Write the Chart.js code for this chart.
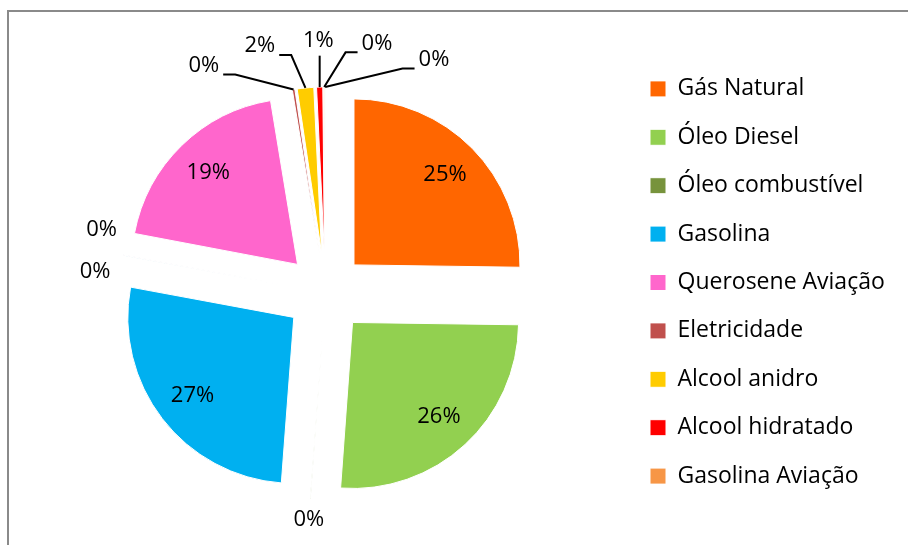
<!DOCTYPE html>
<html>
<head>
<meta charset="utf-8">
<script src="https://cdn.jsdelivr.net/npm/chart.js@4.4.1/dist/chart.umd.min.js"></script>
<style>
  html, body { margin: 0; padding: 0; background: #fff; overflow: hidden; }
  #wrap { position: relative; width: 908px; height: 545px; }
  #frame { position: absolute; left: 7px; top: 10px; width: 1000px; height: 1000px; border: 2px solid #8a8a8a; }
  #chart { position: absolute; left: 0; top: 0; }
</style>
</head>
<body>
<div id="wrap">
  <div id="frame"></div>
  <canvas id="chart" width="908" height="545"></canvas>
</div>
<script>
// --- dados: participação no consumo (%) ---
const categorias = ['Gás Natural', 'Óleo Diesel', 'Óleo combustível', 'Gasolina', 'Outro 1', 'Outro 2',
    'Querosene Aviação', 'Eletricidade', 'Alcool anidro', 'Alcool hidratado', 'Gasolina Aviação', 'Outro 3'];
const valores = [25.2, 25.9, 0.05, 26.7, 0.03, 0.03, 19.4, 0.25, 1.6, 0.6, 0.1, 0.05];
const cores = ['#FF6600', '#92D050', '#77933C', '#00B0F0', '#4BACC6', '#8064A2',
    '#FF66CC', '#C0504D', '#FFCC00', '#FF0000', '#F79646', '#9BBB59'];
// categorias que não cabem na legenda original
const foraDaLegenda = ['Outro 1', 'Outro 2', 'Outro 3'];

// --- layout ---
const FONTE = "'Open Sans', sans-serif";
const RAIO = 166;
const EXPLODE = 40;
const CENTRO_X = 325.5;
const LEG_X = 650;       // x da caixinha da legenda
const LEG_PAD = 25.4;
const LEG_FONT = 23;
const LEG_BOX = 16;

const mctx = document.createElement('canvas').getContext('2d');
mctx.font = LEG_FONT + 'px ' + FONTE;
const maxTexto = Math.max(...categorias.filter(c => !foraDaLegenda.includes(c))
    .map(c => mctx.measureText(c).width));
const itemW = LEG_BOX + LEG_FONT / 2 + maxTexto;

const rotulos = {
    id: 'rotulos',
    // desenha cada fatia deslocada para fora (pizza explodida)
    beforeDatasetDraw(chart, args) {
        const ctx = chart.ctx;
        args.meta.data.forEach(arc => {
            const a = (arc.startAngle + arc.endAngle) / 2;
            ctx.save();
            ctx.translate(Math.cos(a) * EXPLODE, Math.sin(a) * EXPLODE);
            arc.draw(ctx);
            ctx.restore();
        });
        return false;
    },
    afterDatasetsDraw(chart) {
        const ctx = chart.ctx;
        const meta = chart.getDatasetMeta(0);
        const total = valores.reduce((s, v) => s + v, 0);
        ctx.save();
        ctx.font = '22px ' + FONTE;
        ctx.fillStyle = '#000';
        ctx.strokeStyle = '#000';
        ctx.lineWidth = 2;
        ctx.textAlign = 'center';
        ctx.textBaseline = 'middle';
        const fora = [];
        meta.data.forEach((arc, i) => {
            const pct = valores[i] / total * 100;
            const txt = Math.round(pct) + '%';
            const a = (arc.startAngle + arc.endAngle) / 2;
            const cx = arc.x + Math.cos(a) * EXPLODE;
            const cy = arc.y + Math.sin(a) * EXPLODE;
            if (pct >= 5) {
                const d = arc.outerRadius * 0.77;
                ctx.fillText(txt, cx + Math.cos(a) * d, cy + Math.sin(a) * d);
            } else {
                fora.push({
                    txt, a, ox: arc.x, oy: arc.y, r: arc.outerRadius,
                    ax: cx + Math.cos(a) * arc.outerRadius,
                    ay: cy + Math.sin(a) * arc.outerRadius,
                    w: ctx.measureText(txt).width, h: 22
                });
            }
        });
        // agrupa rótulos vizinhos e espalha em leque em torno da mediana
        fora.sort((p, q) => p.a - q.a);
        const grupos = [];
        fora.forEach(p => {
            const g = grupos[grupos.length - 1];
            if (g && p.a - g[g.length - 1].a < 15 * Math.PI / 180) g.push(p);
            else grupos.push([p]);
        });
        grupos.forEach(g => {
            const n = g.length;
            const guia = n > 2;
            const gap = guia ? 35 : 9;
            const m = (g[Math.floor((n - 1) / 2)].a + g[Math.ceil((n - 1) / 2)].a) / 2;
            const w = g[0].w, h = g[0].h;
            const radial = t => Math.abs(Math.cos(t)) * w / 2 + Math.abs(Math.sin(t)) * h / 2;
            const tang = Math.sin(m) ** 2 * w + Math.cos(m) ** 2 * h;
            const base = g[0].r + EXPLODE + gap;
            const passo = 1.9 * tang / (base + radial(m));
            g.forEach((p, k) => {
                const t = m + (k - (n - 1) / 2) * passo;
                const d = base + radial(t);
                const lx = p.ox + Math.cos(t) * d;
                const ly = p.oy + Math.sin(t) * d;
                ctx.fillText(p.txt, lx, ly);
                if (!guia) return;
                ctx.beginPath();
                if (Math.abs(p.ax - lx) < p.w / 2) {
                    ctx.moveTo(p.ax, ly + 15);
                    ctx.lineTo(p.ax, p.ay);
                } else {
                    const dir = p.ax > lx ? 1 : -1;
                    const sx = lx + dir * (p.w / 2 + 4);
                    const sy = ly + 9;
                    ctx.moveTo(sx, sy);
                    ctx.lineTo(sx + dir * 12, sy);
                    ctx.lineTo(p.ax, p.ay);
                }
                ctx.stroke();
            });
        });
        ctx.restore();
    }
};

const ctx1 = document.getElementById('chart').getContext('2d');
const chart1 = new Chart(ctx1, {
    type: 'pie',
    data: {
        labels: categorias,
        datasets: [{
            data: valores,
            backgroundColor: cores,
            borderColor: '#fff',
            borderWidth: 1
        }]
    },
    options: {
        responsive: false,
        animation: false,
        events: [],
        radius: RAIO,
        layout: {
            padding: {
                left: 2 * CENTRO_X - (LEG_X - LEG_PAD),
                right: 908 - LEG_X - itemW - 10,
                top: 52,
                bottom: 11
            }
        },
        plugins: {
            tooltip: { enabled: false },
            legend: {
                position: 'right',
                align: 'start',
                labels: {
                    color: '#000',
                    font: { family: FONTE, size: LEG_FONT },
                    boxWidth: LEG_BOX,
                    boxHeight: LEG_BOX,
                    padding: LEG_PAD,
                    filter: item => !foraDaLegenda.includes(item.text)
                }
            }
        }
    },
    plugins: [rotulos]
});
</script>
</body>
</html>
